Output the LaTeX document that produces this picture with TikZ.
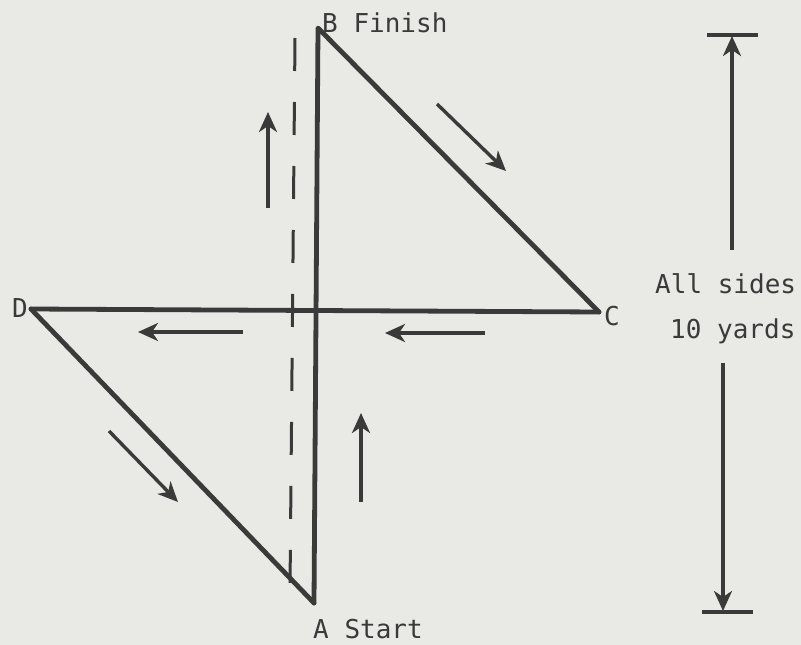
\documentclass[tikz,border=0pt]{standalone}
\usepackage{fontspec}
\setmonofont{DejaVu Sans Mono}
\usetikzlibrary{arrows.meta}
\definecolor{bg}{HTML}{E9E9E6}
\definecolor{ink}{HTML}{3A3A3A}
\begin{document}
\begin{tikzpicture}[x=1pt,y=-1pt,
  side/.style={draw=ink,line width=4.8pt,line cap=round,line join=round},
  dir/.style={draw=ink,line width=3.4pt,-{Stealth[length=20pt,width=18pt,inset=6pt]}},
  dashline/.style={draw=ink,line width=3pt,dash pattern=on 33pt off 31pt},
  bar/.style={draw=ink,line width=3.8pt},
  lbl/.style={inner sep=0pt,anchor=base west,text=ink,font=\ttfamily\fontsize{26}{30}\selectfont}]
\fill[bg] (0,0) rectangle (801,645);
\useasboundingbox (0,0) rectangle (801,645);
% vertices
\coordinate (A) at (314,603);
\coordinate (B) at (318,28);
\coordinate (C) at (599,312);
\coordinate (D) at (31,309);
% sides
\draw[side] (A) -- (B) -- (C);
\draw[side] (D) -- (C);
\draw[side] (D) -- (A);
% dashed path
\coordinate (dt) at (295,38);
\coordinate (db) at (290,590);
\draw[dashline] (dt) -- (db);
% direction arrows
\coordinate (a1s) at (268,208); \coordinate (a1e) at (268,112);
\coordinate (a2s) at (437,104); \coordinate (a2e) at (506,171);
\coordinate (a3s) at (243,332); \coordinate (a3e) at (138,332);
\coordinate (a4s) at (485,333); \coordinate (a4e) at (385,333);
\coordinate (a5s) at (361,502); \coordinate (a5e) at (361,413);
\coordinate (a6s) at (109,431); \coordinate (a6e) at (178,502);
\draw[dir] (a1s) -- (a1e);
\draw[dir] (a2s) -- (a2e);
\draw[dir] (a3s) -- (a3e);
\draw[dir] (a4s) -- (a4e);
\draw[dir] (a5s) -- (a5e);
\draw[dir] (a6s) -- (a6e);
% labels
\node[lbl] (lB) at (322,32) {B Finish};
\node[lbl] (lA) at (313,638) {A Start};
\node[lbl] (lD) at (12,317) {D};
\node[lbl] (lC) at (604,325) {C};
\node[lbl] (l1) at (655,293) {All sides};
\node[lbl] (l2) at (670,338) {10 yards};
% dimension
\coordinate (t1) at (707,35); \coordinate (t2) at (758,35);
\coordinate (u1) at (702,612); \coordinate (u2) at (753,612);
\coordinate (ts) at (732,250); \coordinate (te) at (732,36);
\coordinate (us) at (723,363); \coordinate (ue) at (723,611);
\draw[bar] (t1) -- (t2);
\draw[bar] (u1) -- (u2);
\draw[dir] (ts) -- (te);
\draw[dir] (us) -- (ue);
\end{tikzpicture}
\end{document}
